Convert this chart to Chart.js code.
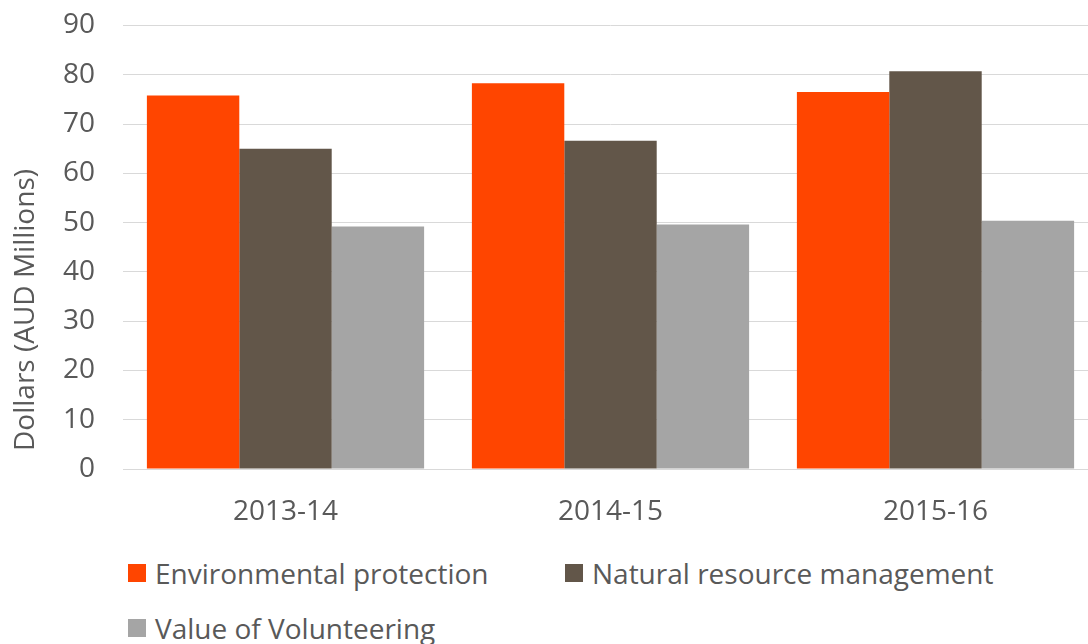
<!DOCTYPE html>
<html>
<head>
<meta charset="utf-8">
<script src="https://cdn.jsdelivr.net/npm/chart.js@4.4.1/dist/chart.umd.min.js"></script>
<style>
  html, body { margin: 0; padding: 0; background: #fff; overflow: hidden; width: 1088px; height: 644px; }
  #wrap { position: absolute; left: 0; top: 0; width: 1098px; height: 540px; }
  .leg { position: absolute; font-family: "Open Sans", sans-serif; font-size: 28px; color: #595959; white-space: nowrap; line-height: 32px; }
  .leg span.sw { position: absolute; width: 18px; height: 18px; left: 0; top: 7px; }
  .leg span.tx { position: absolute; left: 27px; top: 0; }
</style>
</head>
<body>
<div id="wrap"><canvas id="c" width="1098" height="540"></canvas></div>
<div id="legend"></div>
<script>
const categories = ["2013-14", "2014-15", "2015-16"];
const seriesNames = ["Environmental protection", "Natural resource management", "Value of Volunteering"];
const environmentalProtection = [75.8, 78.3, 76.5];
const naturalResourceManagement = [65.0, 66.6, 80.7];
const valueOfVolunteering = [49.2, 49.6, 50.4];
const seriesColors = ["#FF4500", "#625649", "#A5A5A5"];
const yTicks = [0, 10, 20, 30, 40, 50, 60, 70, 80, 90];
const yTitle = "Dollars (AUD Millions)";

const seriesValues = [environmentalProtection, naturalResourceManagement, valueOfVolunteering];
const FONT = "'Open Sans', sans-serif";

const yTitlePlugin = {
  id: 'yTitle',
  afterDraw(chart) {
    const ctx = chart.ctx;
    ctx.save();
    ctx.translate(26, 310);
    ctx.rotate(-Math.PI / 2);
    ctx.font = "28px 'Open Sans', sans-serif";
    ctx.fillStyle = '#595959';
    ctx.textAlign = 'center';
    ctx.textBaseline = 'middle';
    ctx.fillText(yTitle, 0, 0);
    ctx.restore();
  }
};

new Chart(document.getElementById('c'), {
  type: 'bar',
  data: {
    labels: categories,
    datasets: seriesNames.map((n, i) => ({
      label: n,
      data: seriesValues[i],
      backgroundColor: seriesColors[i],
      borderWidth: 0,
      categoryPercentage: 0.853,
      barPercentage: 1.0
    }))
  },
  plugins: [yTitlePlugin],
  options: {
    responsive: false,
    animation: false,
    devicePixelRatio: 1,
    layout: { padding: { top: 25.5, right: 0, left: 0, bottom: 0 } },
    plugins: { legend: { display: false }, tooltip: { enabled: false } },
    scales: {
      x: {
        grid: { display: false, drawTicks: false },
        border: { display: true, color: '#d9d9d9', width: 1 },
        ticks: { color: '#595959', font: { family: FONT, size: 28 }, padding: 26, maxRotation: 0 },
        afterFit: (s) => { s.height = 71; s.paddingLeft = 0; s.paddingRight = 0; }
      },
      y: {
        min: 0, max: 90,
        afterBuildTicks: (s) => { s.ticks = yTicks.map(v => ({ value: v })); },
        grid: { color: '#d9d9d9', lineWidth: 1, drawTicks: false },
        border: { display: false },
        ticks: { color: '#595959', font: { family: FONT, size: 28 }, padding: 28 },
        title: { display: false },
        afterFit: (s) => { s.width = 123; s.paddingTop = 0; s.paddingBottom = 0; }
      }
    }
  }
});

const legendPos = [[128, 557], [565, 557], [128, 612]];
const legEl = document.getElementById('legend');
seriesNames.forEach((n, i) => {
  const d = document.createElement('div');
  d.className = 'leg';
  d.style.left = legendPos[i][0] + 'px';
  d.style.top = legendPos[i][1] + 'px';
  const sw = document.createElement('span'); sw.className = 'sw'; sw.style.background = seriesColors[i];
  const tx = document.createElement('span'); tx.className = 'tx'; tx.textContent = n;
  d.appendChild(sw); d.appendChild(tx);
  legEl.appendChild(d);
});
</script>
</body>
</html>
